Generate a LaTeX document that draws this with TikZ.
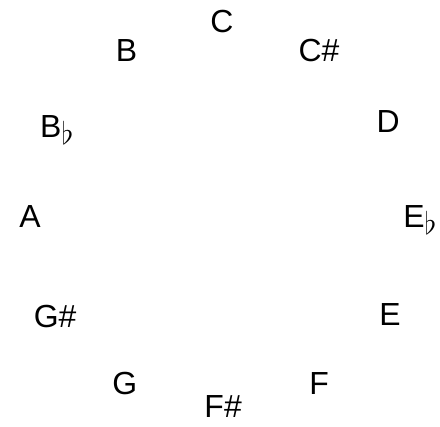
\documentclass[tikz,border=0pt]{standalone}
\usepackage{fontspec}
\setmainfont{Liberation Sans}
\newcommand{\flatsign}{\raisebox{-7pt}{\fontsize{20}{20}\selectfont\scalebox{1.5}{$\flat$}}}

\begin{document}
\begin{tikzpicture}[
  every node/.style={font=\fontsize{32}{38}\selectfont},
  pitch/.style={inner sep=0pt, anchor=base},
  flatpitch/.style={inner sep=0pt, anchor=base west},
]
\useasboundingbox (0, 0) rectangle (15.5, -15.007);

% ---- top ----
\node[pitch]     (c)   at (7.82, -1.13)   {C};
\node[pitch]     (cs)  at (11.24, -2.15)  {C\#};
\node[pitch]     (d)   at (13.67, -4.65)  {D};

% ---- right ----
\node[flatpitch] (eb)  at (14.20, -8.00)  {E\flatsign};
\node[pitch]     (e)   at (13.74, -11.45) {E};
\node[pitch]     (f)   at (11.24, -13.91) {F};

% ---- bottom ----
\node[pitch]     (fs)  at (7.86, -14.69)  {F\#};
\node[pitch]     (g)   at (4.40, -13.91)  {G};
\node[pitch]     (gs)  at (1.94, -11.52)  {G\#};

% ---- left ----
\node[pitch]     (a)   at (1.06, -8.00)   {A};
\node[flatpitch] (bb)  at (1.41, -4.86)   {B\flatsign};
\node[pitch]     (b)   at (4.46, -2.15)   {B};

\end{tikzpicture}
\end{document}
